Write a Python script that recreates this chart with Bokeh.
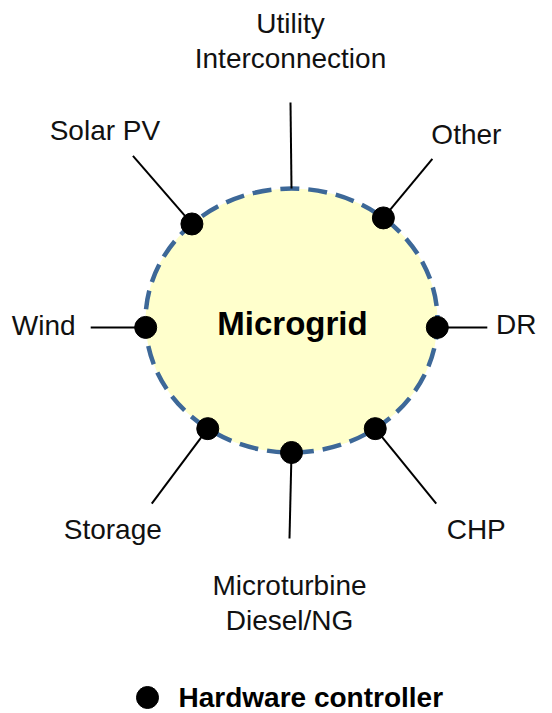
import math
from bokeh.plotting import figure
from bokeh.models import Range1d
from bokeh.core.properties import value
from bokeh.embed import file_html
from bokeh.resources import INLINE

# ---- diagram data ----
center_label = "Microgrid"
legend_label = "Hardware controller"
node_labels = [["Utility", "Interconnection"], ["Other"], ["DR"], ["CHP"],
               ["Microturbine", "Diesel/NG"], ["Storage"], ["Wind"], ["Solar PV"]]
dot_angle = [90, 51, -3, -55, -90, -125, 183, 133]          # degrees on the ring
has_dot = [False, True, True, True, True, True, True, True]
stub_dx = [-1, 49, 50, 61, -2, -56, -55, -59]                # connector vectors
stub_dy = [-86, -59, 0, 75, 86, 75, 0, -68]
label_dx = [0, 34, 29, 40, 0, -39, -47, -28]                 # label offsets from stub end
label_dy = [-62, -24, -3, 26, 64, 26, -2, -25]

# ring geometry (page pixels)
cx, cy, rx, ry = 291, 320, 146, 132

W, H = 552, 713
p = figure(width=W, height=H, output_backend="svg", toolbar_location=None,
           x_range=Range1d(0, W), y_range=Range1d(H, 0), min_border=0)
p.axis.visible = False
p.grid.visible = False
p.outline_line_color = None
p.background_fill_color = "white"
p.border_fill_color = "white"

p.ellipse(x=[cx], y=[cy], width=2 * rx, height=2 * ry, fill_color="#FFFFCC",
          line_color="#3D6898", line_width=4.5, line_dash="19 9")

dx, dy, ex, ey = [], [], [], []
for a, sx, sy in zip(dot_angle, stub_dx, stub_dy):
    t = math.radians(a)
    x0 = cx + rx * math.cos(t)
    y0 = cy - ry * math.sin(t)
    dx.append(x0); dy.append(y0)
    ex.append(x0 + sx); ey.append(y0 + sy)

p.segment(x0=dx, y0=dy, x1=ex, y1=ey, line_color="black", line_width=2)
p.scatter(x=[x for x, h in zip(dx, has_dot) if h], y=[y for y, h in zip(dy, has_dot) if h],
          size=22, color="black")

tx, ty, tt = [], [], []
for lab, x, y, ox, oy in zip(node_labels, ex, ey, label_dx, label_dy):
    n = len(lab)
    for i, line in enumerate(lab):
        tx.append(x + ox)
        ty.append(y + oy + (i - (n - 1) / 2) * 35)
        tt.append(line)
p.text(x=tx, y=ty, text=tt, text_font=value("Liberation Sans"), text_font_size="28px",
       text_align="center", text_baseline="middle", text_color="#111111")

p.text(x=[cx + 1], y=[cy + 3], text=[center_label], text_font=value("Liberation Sans"),
       text_font_size="33px", text_font_style="bold", text_align="center",
       text_baseline="middle", text_color="black")

p.scatter(x=[147], y=[697], size=22, color="black")
p.text(x=[178], y=[697], text=[legend_label], text_font=value("Liberation Sans"),
       text_font_size="28px", text_font_style="bold", text_align="left",
       text_baseline="middle", text_color="black")

open("out.html", "w").write(file_html(p, INLINE))
